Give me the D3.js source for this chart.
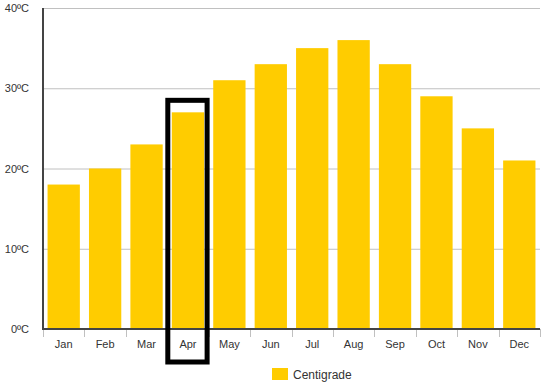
<!DOCTYPE html>
<html>
<head>
<meta charset="utf-8">
<script src="https://d3js.org/d3.v7.min.js"></script>
<style>
  body { margin: 0; background: #fff; }
  text { font-family: Arial, "Liberation Sans", sans-serif; fill: #333; }
</style>
</head>
<body>
<div id="chart"></div>
<script>
// data
let months = ["Jan","Feb","Mar","Apr","May","Jun","Jul","Aug","Sep","Oct","Nov","Dec"];
let temps = [18, 20, 23, 27, 31, 33, 35, 36, 33, 29, 25, 21];
let yTicks = [0, 10, 20, 30, 40];
let highlightMonth = "Apr";
let seriesName = "Centigrade";

let margin = {top: 8, right: 3, bottom: 63, left: 43},
    width = 543 - margin.left - margin.right,
    height = 392 - margin.top - margin.bottom;

let svg = d3.select("#chart")
    .append("svg")
    .attr("width", 543)
    .attr("height", 392)
    .append("g")
    .attr("transform", "translate(" + margin.left + "," + margin.top + ")");

// scales
let x = d3.scaleBand()
    .domain(months)
    .range([0, width])
    .paddingInner(0.22)
    .paddingOuter(0.11);

let xTick = d3.scaleBand().domain(months).range([0, width]); // for tick separators

let y = d3.scaleLinear()
    .domain([0, 40])
    .range([height, 0]);

// gridlines
svg.append("g")
    .selectAll("line")
    .data(yTicks.filter(d => d > 0))
    .enter()
    .append("line")
    .attr("x1", 0)
    .attr("x2", width)
    .attr("y1", d => y(d) + 0.5)
    .attr("y2", d => y(d) + 0.5)
    .attr("stroke", "#c0c0c0")
    .attr("stroke-width", 1);

// y labels
svg.append("g")
    .selectAll("text")
    .data(yTicks)
    .enter()
    .append("text")
    .attr("x", -14)
    .attr("y", d => y(d) + 4)
    .attr("text-anchor", "end")
    .style("font-size", "11px")
    .text(d => d + "ºC");

// bars
svg.append("g")
    .selectAll("rect")
    .data(temps)
    .enter()
    .append("rect")
    .attr("x", (d, i) => x(months[i]))
    .attr("y", d => y(d))
    .attr("width", x.bandwidth())
    .attr("height", d => height - y(d))
    .attr("fill", "#ffcc00");

// x tick separators
svg.append("g")
    .selectAll("line")
    .data(months.concat(["end"]))
    .enter()
    .append("line")
    .attr("x1", (d, i) => Math.round(i * xTick.step()) + 0.5)
    .attr("x2", (d, i) => Math.round(i * xTick.step()) + 0.5)
    .attr("y1", height)
    .attr("y2", height + 8)
    .attr("stroke", "#c0c0c0");

// x labels
svg.append("g")
    .selectAll("text")
    .data(months)
    .enter()
    .append("text")
    .attr("x", d => x(d) + x.bandwidth() / 2)
    .attr("y", height + 19)
    .attr("text-anchor", "middle")
    .style("font-size", "11px")
    .text(d => d);

// axis lines
svg.append("line")
    .attr("x1", 0).attr("x2", width)
    .attr("y1", height).attr("y2", height)
    .attr("stroke", "#444").attr("stroke-width", 2);
svg.append("line")
    .attr("x1", 0).attr("x2", 0)
    .attr("y1", 0).attr("y2", height + 1)
    .attr("stroke", "#444").attr("stroke-width", 2);

// highlight box around one month
let hi = months.indexOf(highlightMonth);
svg.append("rect")
    .attr("x", x(highlightMonth) - 4)
    .attr("y", y(temps[hi]) - 12)
    .attr("width", x.bandwidth() + 7)
    .attr("height", height - y(temps[hi]) + 12 + 33)
    .attr("fill", "none")
    .attr("stroke", "#000")
    .attr("stroke-width", 5);

// legend
let legend = svg.append("g")
    .attr("transform", "translate(" + (229) + "," + (height + 39) + ")");
legend.append("rect")
    .attr("width", 16)
    .attr("height", 12)
    .attr("fill", "#ffcc00");
legend.append("text")
    .attr("x", 21)
    .attr("y", 11)
    .style("font-size", "12px")
    .text(seriesName);
</script>
</body>
</html>
